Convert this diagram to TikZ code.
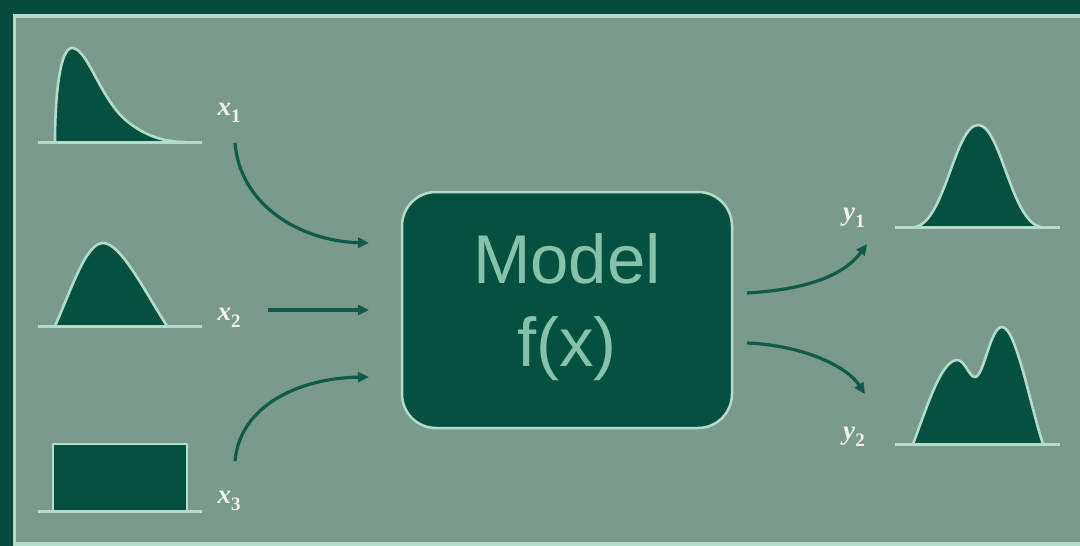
\documentclass[tikz,border=0pt]{standalone}
\usepackage{fontspec}
\setmainfont{Liberation Serif}
\newfontfamily\modelfont{Liberation Sans}
\usetikzlibrary{arrows.meta}
\definecolor{framedark}{HTML}{064B3C}
\definecolor{panel}{HTML}{7A9A8B}
\definecolor{shapefill}{HTML}{05503F}
\definecolor{lightline}{HTML}{B4DCCA}
\definecolor{arrowc}{HTML}{0F5A48}
\definecolor{labelc}{HTML}{EEF3EF}
\definecolor{modeltext}{HTML}{86C2AB}
\newcommand{\varlab}[2]{\textbf{\textit{#1}}\raisebox{-0.28em}{\fontsize{19}{19}\selectfont\bfseries #2}}
\tikzset{
  dist/.style={fill=shapefill, draw=lightline, line width=2.6pt, line join=round},
  baseln/.style={draw=lightline, line width=3pt},
  lbl/.style={text=labelc, font=\fontsize{27}{27}\selectfont, inner sep=0pt},
  flow/.style={draw=arrowc, line width=3.2pt, -{Triangle[length=11pt,width=10pt]}},
  modelbox/.style={fill=shapefill, draw=lightline, line width=2.5pt, rounded corners=34pt,
    minimum width=330pt, minimum height=236pt},
  modeltxt/.style={text=modeltext, align=center, inner sep=0pt,
    font=\modelfont\fontsize{69}{83}\selectfont},
}
\begin{document}
\begin{tikzpicture}[x=1pt,y=-1pt]
\useasboundingbox (0,0) rectangle (1080,546);
\fill[framedark] (0,0) rectangle (1080,546);
\fill[panel] (14,15) rectangle (1090,545);
\draw[lightline, line width=3.5pt] (1090,16) -- (14.5,16) -- (14.5,544) -- (1090,544);

% x1 distribution
\draw[dist] (55,142) .. controls (55,95) and (60,48) .. (72,48)
  .. controls (88,48) and (100,100) .. (128,122)
  .. controls (148,138) and (168,142) .. (185,142);
\draw[baseln] (38,142) -- (202,142);
\node[lbl] (x1) at (229,113) {\varlab{x}{1}};

% x2 distribution
\draw[dist] (55,326) .. controls (72,288) and (86,243) .. (103,243)
  .. controls (121,243) and (145,292) .. (167,326);
\draw[baseln] (38,326) -- (202,326);
\node[lbl] (x2) at (229,318) {\varlab{x}{2}};

% x3 distribution
\draw[dist] (53,511) -- (53,444) -- (187,444) -- (187,511);
\draw[baseln] (38,511) -- (202,511);
\node[lbl] (x3) at (229,501) {\varlab{x}{3}};

% model
\node[modelbox] (model) at (567,310) {};
\node[modeltxt] (modelt) at (567,307) {Model\\f(x)};

% input arrows
\coordinate (a1s) at (235,143);
\coordinate (a1e) at (369,243);
\coordinate (a2s) at (268,310);
\coordinate (a2e) at (369,310);
\coordinate (a3s) at (235,461);
\coordinate (a3e) at (369,377);
\draw[flow] (a1s) .. controls (240,205) and (300,241) .. (a1e);
\draw[flow] (a2s) -- (a2e);
\draw[flow] (a3s) .. controls (240,405) and (300,378) .. (a3e);

% output arrows
\coordinate (b1s) at (747,293);
\coordinate (b1e) at (867,244);
\coordinate (b2s) at (747,343);
\coordinate (b2e) at (865,394);
\draw[flow] (b1s) .. controls (800,290) and (842,278) .. (b1e);
\draw[flow] (b2s) .. controls (800,345) and (846,365) .. (b2e);

% y1 distribution
\draw[dist] (915,227) .. controls (945,222) and (955,125) .. (978,125)
  .. controls (1001,125) and (1011,222) .. (1041,227);
\draw[baseln] (895,227) -- (1060,227);
\node[lbl] (y1) at (854,218) {\varlab{y}{1}};

% y2 distribution
\draw[dist] (913,444) .. controls (926,410) and (941,360) .. (957,360)
  .. controls (965,360) and (969,377) .. (975,377)
  .. controls (984,377) and (990,327) .. (1002,327)
  .. controls (1016,327) and (1030,405) .. (1043,444);
\draw[baseln] (895,444) -- (1060,444);
\node[lbl] (y2) at (854,437) {\varlab{y}{2}};
\end{tikzpicture}
\end{document}
